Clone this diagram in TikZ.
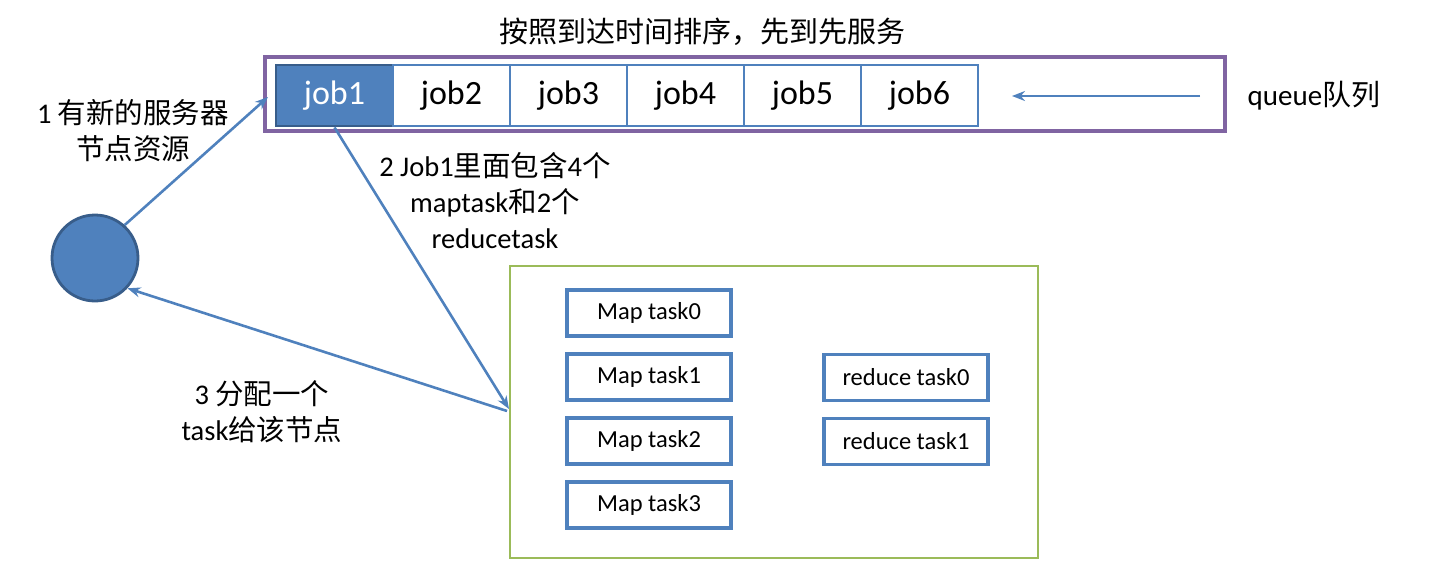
\documentclass[tikz,border=0pt]{standalone}
\usepackage{fontspec}
\setmainfont{Carlito}
\newfontfamily\cjk{Noto Sans CJK SC}
\usetikzlibrary{arrows.meta}
\definecolor{jblue}{HTML}{4F81BD}
\definecolor{dblue}{HTML}{385D8A}
\definecolor{qpurple}{HTML}{8064A2}
\definecolor{tgreen}{HTML}{9BBB59}
\tikzset{
  jobcell/.style={draw=jblue, line width=2.8pt, minimum width=117pt, minimum height=61pt, inner sep=0pt, font=\fontsize{34}{38}\selectfont},
  taskbox/.style={draw=jblue, line width=3.2pt, minimum width=164pt, minimum height=46pt, inner sep=0pt, font=\fontsize{24.5}{28}\selectfont},
  arr/.style={draw=jblue, line width=2.6pt, -{Stealth[length=13pt,width=10pt]}},
  lbl/.style={align=center, inner sep=0pt, font=\fontsize{28.5}{36}\selectfont},
}
\begin{document}
\begin{tikzpicture}[x=1pt,y=-1pt]
\useasboundingbox (0,0) rectangle (1442,582);
% title
\node[inner sep=0pt, font=\fontsize{29}{34}\selectfont\cjk] (title) at (702,32) {按照到达时间排序，先到先服务};
% queue box
\node[draw=qpurple, line width=3.2pt, minimum width=960pt, minimum height=74pt, inner sep=0pt] (queue) at (745,94) {};
\node[jobcell, fill=jblue, draw=dblue, text=white] (job1) at (334.5,95.5) {job1};
\node[jobcell] (job2) at (451.5,95.5) {job2};
\node[jobcell] (job3) at (568.5,95.5) {job3};
\node[jobcell] (job4) at (685.5,95.5) {job4};
\node[jobcell] (job5) at (802.5,95.5) {job5};
\node[jobcell] (job6) at (919.5,95.5) {job6};
\coordinate (qa) at (1200,96);
\coordinate (qb) at (1012,96);
\draw[arr] (qa) -- (qb);
\node[inner sep=0pt, font=\fontsize{29}{32}\selectfont] (qlbl) at (1314,96) {queue{\cjk 队列}};
% server node
\node[circle, fill=jblue, draw=dblue, line width=2.8pt, minimum size=86pt, inner sep=0pt] (srv) at (95,258) {};
% green box
\node[draw=tgreen, line width=2.8pt, minimum width=528pt, minimum height=292pt, inner sep=0pt] (grp) at (774,412) {};
\node[taskbox] (m0) at (649,313) {Map task0};
\node[taskbox] (m1) at (649,377) {Map task1};
\node[taskbox] (m2) at (649,441) {Map task2};
\node[taskbox] (m3) at (649,505) {Map task3};
\node[taskbox] (r0) at (906,377.5) {reduce task0};
\node[taskbox] (r1) at (906,441.5) {reduce task1};
% arrows
\coordinate (t1) at (268,97);
\coordinate (t2) at (509,409);
\coordinate (t3) at (507,411);
\draw[arr] (srv.48) -- (t1);
\draw[arr] (job1.south) -- (t2);
\draw[arr] (t3) -- (srv.-43);
% labels
\node[lbl] (l1) at (133,131) {1 {\cjk 有新的服务器}\\{\cjk 节点资源}};
\node[lbl] (l2) at (495,201) {2 Job1{\cjk 里面包含}4{\cjk 个}\\maptask{\cjk 和}2{\cjk 个}\\reducetask};
\node[lbl] (l3) at (262,412) {3 {\cjk 分配一个}\\task{\cjk 给该节点}};
\end{tikzpicture}
\end{document}
